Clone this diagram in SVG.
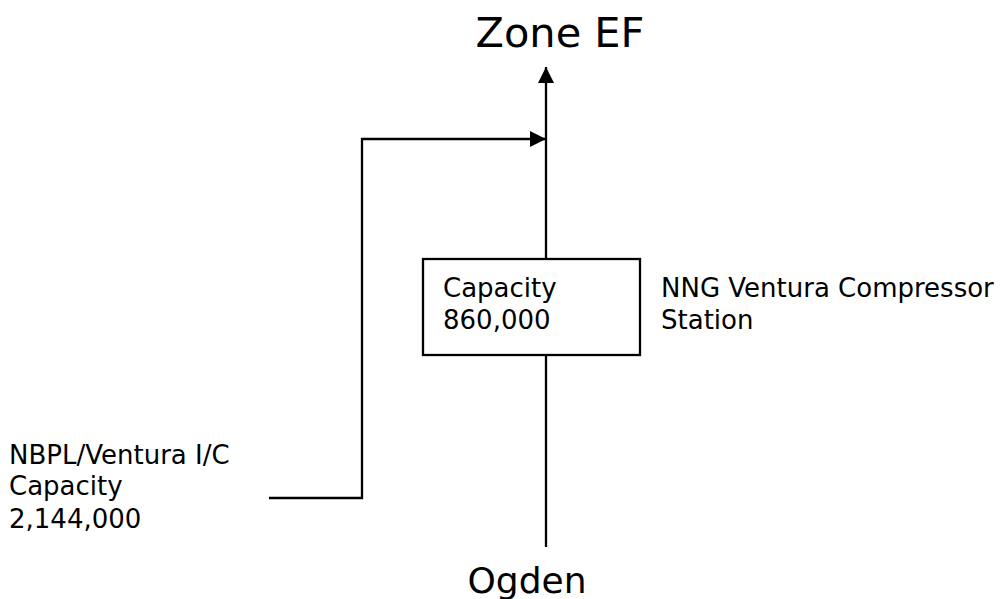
<svg xmlns="http://www.w3.org/2000/svg" width="1006" height="599" viewBox="0 0 1006 599">
<style>
text{font-family:"DejaVu Sans",Verdana,sans-serif;fill:#000}
.s{font-size:26px}
.ln{stroke:#000;stroke-width:2.3;fill:none}
</style>
<defs>
<marker id="ah" markerWidth="17" markerHeight="16" refX="16" refY="8" orient="auto" markerUnits="userSpaceOnUse">
<path d="M0,0 L16,8 L0,16 Z" fill="#000"/>
</marker>
</defs>
<rect width="1006" height="599" fill="#fff"/>
<g id="zone-ef"><text x="560" y="47" font-size="41.5" text-anchor="middle">Zone EF</text></g>
<g id="ogden"><text x="527" y="593" font-size="36" text-anchor="middle">Ogden</text></g>
<g id="compressor">
<rect x="423" y="259" width="217" height="96" fill="#fff" stroke="#000" stroke-width="2.3"/>
<text class="s" x="443" y="297">Capacity</text>
<text class="s" x="443" y="329">860,000</text>
</g>
<g id="nng-label"><text class="s" x="661" y="297">NNG Ventura Compressor</text><text class="s" x="661" y="329">Station</text></g>
<g id="nbpl-label"><text class="s" x="9" y="464">NBPL/Ventura I/C</text><text class="s" x="9" y="495">Capacity</text><text class="s" x="9" y="528">2,144,000</text></g>
<g id="connectors">
<line class="ln" x1="546" y1="259" x2="546" y2="67" marker-end="url(#ah)"/>
<line class="ln" x1="546" y1="355" x2="546" y2="547"/>
<polyline class="ln" points="269,498 362,498 362,139 546,139" marker-end="url(#ah)"/>
</g>
</svg>
